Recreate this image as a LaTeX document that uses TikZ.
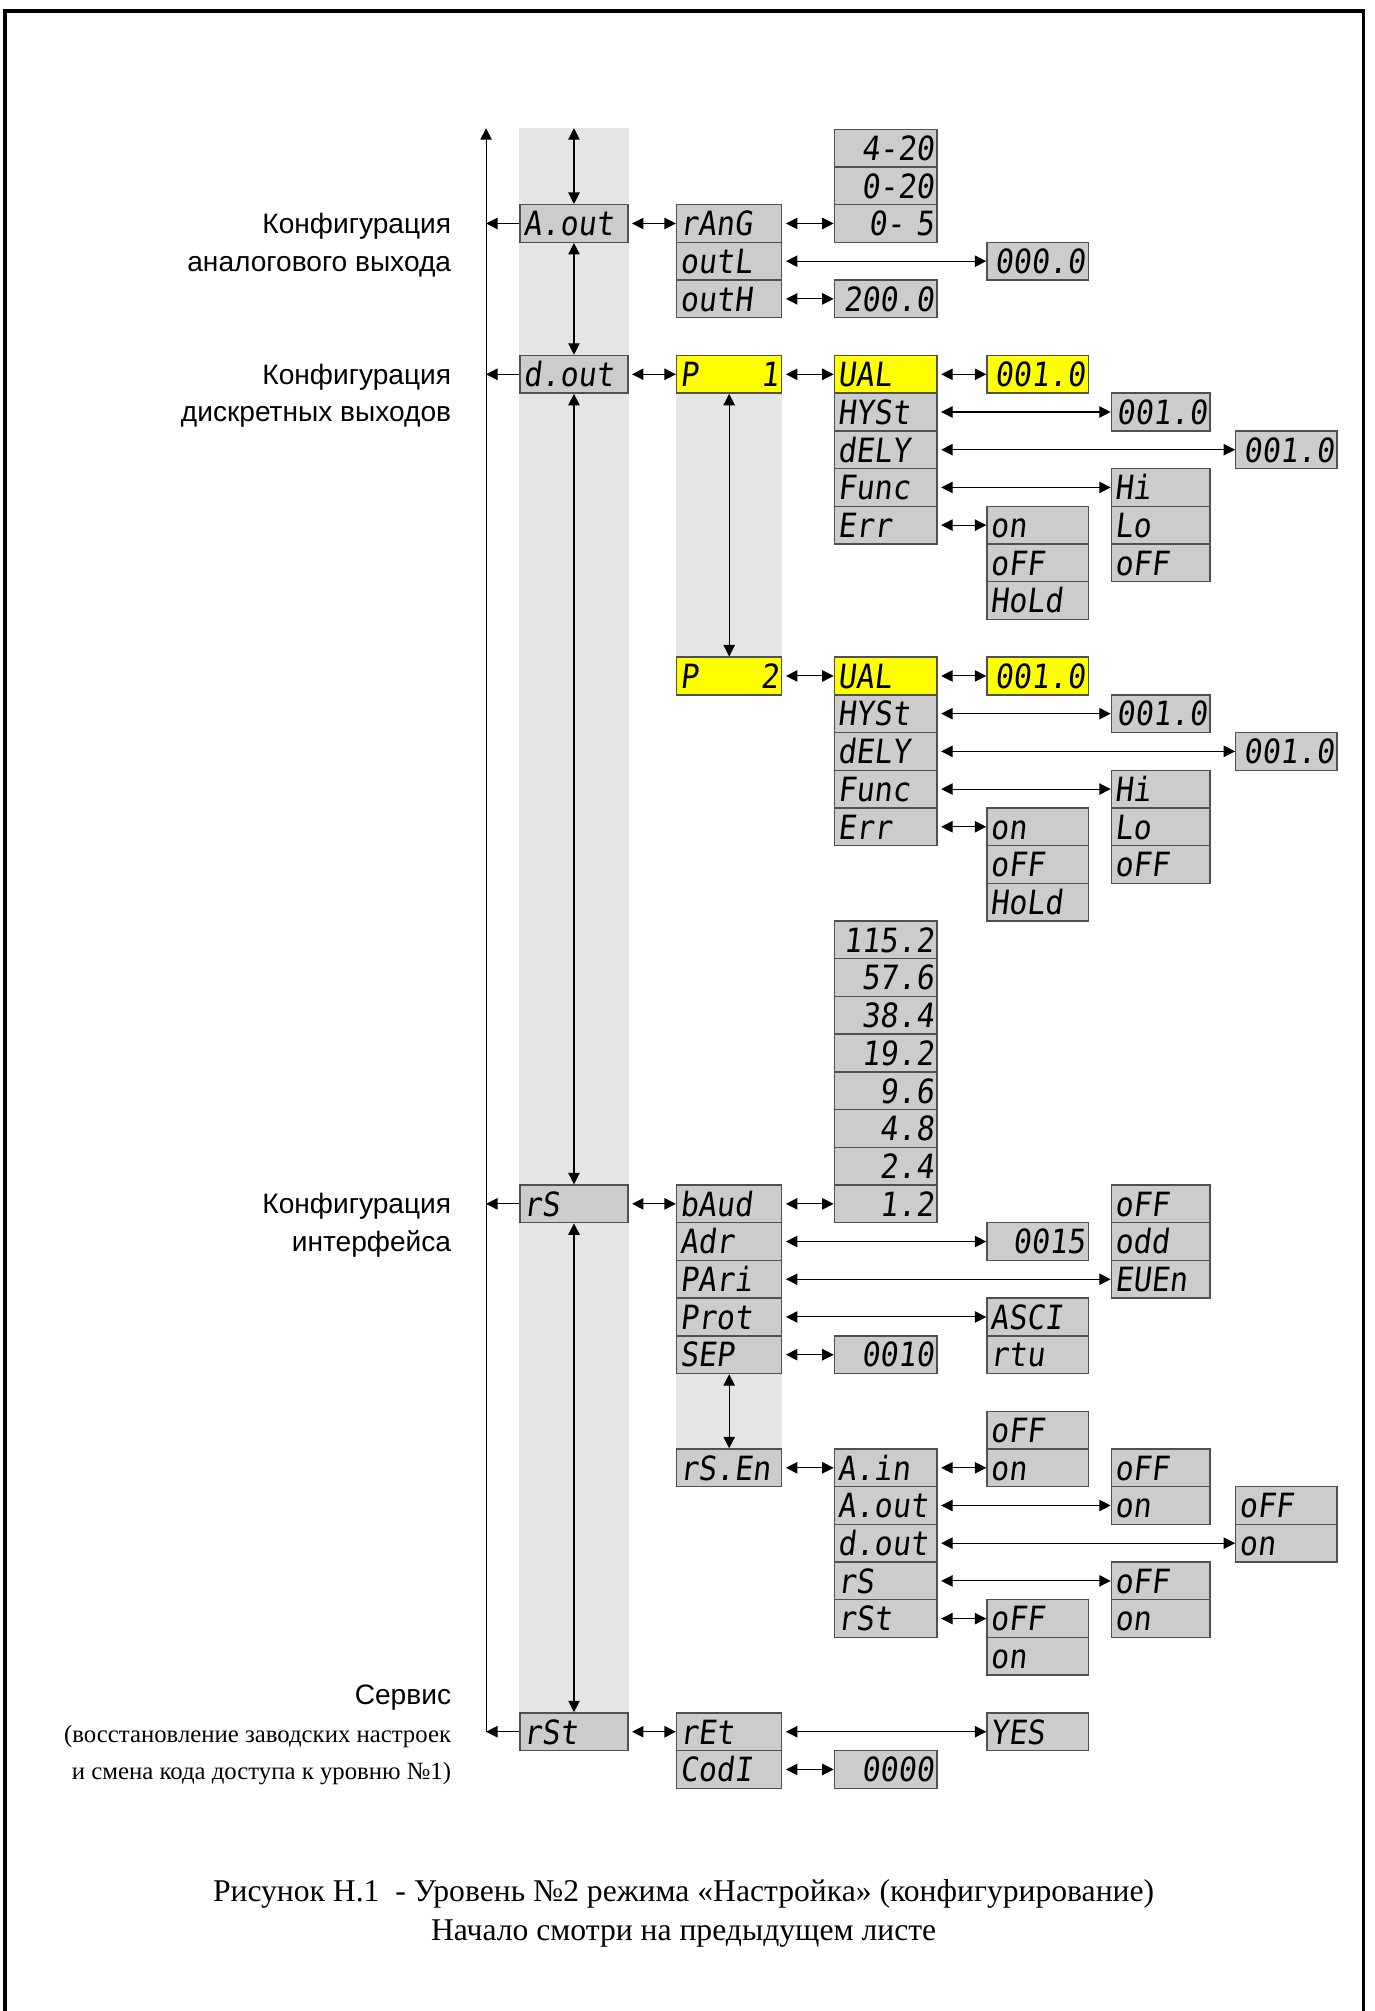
\documentclass[tikz,border=0pt]{standalone}
\usepackage{fontspec}
\setmainfont{Liberation Serif}
\setsansfont{Liberation Sans}
\newfontfamily\segfont{DejaVu Sans Mono}[FakeStretch=0.9,FakeSlant=0.12]
\usetikzlibrary{arrows.meta,positioning,backgrounds}
\definecolor{PanelGray}{HTML}{CCCCCC}
\definecolor{PanelEdge}{HTML}{505050}
\definecolor{BandGray}{HTML}{E5E5E5}
\definecolor{SetYellow}{HTML}{FFFF00}
\newcommand{\rowtop}[1]{159+29.4*(#1)}

\begin{document}
\begin{tikzpicture}[x=0.02565cm, y=-0.02565cm,
  seg/.style={rectangle, draw=PanelEdge, fill=PanelGray, line width=0.8pt,
    anchor=north west, minimum height=0.754cm, inner xsep=0.064cm, inner ysep=0pt,
    align=left, text height=14pt, text depth=0pt,
    font=\segfont\fontsize{19}{19}\selectfont},
  num/.style={align=right},
  hl/.style={fill=SetYellow},
  colA/.style={text width=2.026cm},
  colB/.style={text width=1.975cm},
  colC/.style={text width=1.924cm},
  colD/.style={text width=1.898cm},
  colE/.style={text width=1.847cm},
  colF/.style={text width=1.898cm},
  link/.style={{Triangle[length=6.5pt,width=6.5pt]}-{Triangle[length=6.5pt,width=6.5pt]}, line width=0.6pt},
  hlink/.style={link, shorten <=2pt},
  back/.style={-{Triangle[length=6.5pt,width=6.5pt]}, line width=0.6pt},
  lbl/.style={anchor=east, align=right, inner xsep=0pt,
    font=\sffamily\fontsize{16}{21.4}\selectfont}]
  \useasboundingbox (0,0) rectangle (1072,1568);
  \draw[line width=1.9pt] (3.9,1568) |- (1063.3,8.6) -- (1063.3,1568);

  % main menu column
  \foreach \nm/\txt/\r in {aout/A.out/0, dout/d.out/4, rs/rS/26, rst/rSt/40}
    \node[seg,colA] (\nm) at (405,{\rowtop{\r}}) {\txt};

  % parameter groups
  \foreach \nm/\txt/\r in {rang/rAnG/0, outl/outL/1, outh/outH/2,
      baud/bAud/26, adr/Adr/27, pari/PAri/28, prot/Prot/29, sep/SEP/30,
      rsen/rS.En/33, ret/rEt/40, codi/CodI/41}
    \node[seg,colB] (\nm) at (527,{\rowtop{\r}}) {\txt};
  \node[seg,colB,hl] (pone) at (527,{\rowtop{4}}) {P\hfill 1};
  \node[seg,colB,hl] (ptwo) at (527,{\rowtop{12}}) {P\hfill 2};

  % analog output values
  \foreach \nm/\txt/\r in {v420/4-20/-2, v020/0-20/-1, v05/0-~5/0, v200/200.0/2}
    \node[seg,colC,num] (\nm) at (650,{\rowtop{\r}}) {\txt};
  \node[seg,colD,num] (voutl) at (769,{\rowtop{1}}) {000.0};

  % setpoints P1 / P2
  \foreach \p/\r in {1/4, 2/12}{
    \node[seg,colC,hl] (ual\p) at (650,{\rowtop{\r}}) {UAL};
    \node[seg,colC] (hyst\p) at (650,{\rowtop{\r+1}}) {HYSt};
    \node[seg,colC] (dely\p) at (650,{\rowtop{\r+2}}) {dELY};
    \node[seg,colC] (func\p) at (650,{\rowtop{\r+3}}) {Func};
    \node[seg,colC] (err\p) at (650,{\rowtop{\r+4}}) {Err};
    \node[seg,colD,hl,num] (ualv\p) at (769,{\rowtop{\r}}) {001.0};
    \node[seg,colE,num] (hystv\p) at (866,{\rowtop{\r+1}}) {001.0};
    \node[seg,colF,num] (delyv\p) at (963,{\rowtop{\r+2}}) {001.0};
    \node[seg,colE] (hi\p) at (866,{\rowtop{\r+3}}) {Hi};
    \node[seg,colE] (lo\p) at (866,{\rowtop{\r+4}}) {Lo};
    \node[seg,colE] (foff\p) at (866,{\rowtop{\r+5}}) {oFF};
    \node[seg,colD] (eon\p) at (769,{\rowtop{\r+4}}) {on};
    \node[seg,colD] (eoff\p) at (769,{\rowtop{\r+5}}) {oFF};
    \node[seg,colD] (ehold\p) at (769,{\rowtop{\r+6}}) {HoLd};
    \draw[hlink] (ual\p.east) -- (ualv\p.west);
    \draw[hlink] (hyst\p.east) -- (hystv\p.west);
    \draw[hlink] (dely\p.east) -- (delyv\p.west);
    \draw[hlink] (func\p.east) -- (hi\p.west);
    \draw[hlink] (err\p.east) -- (eon\p.west);
  }

  % interface
  \foreach \v [count=\i from 0] in {115.2,57.6,38.4,19.2,9.6,4.8,2.4,1.2}
    \node[seg,colC,num] (bd\i) at (650,{\rowtop{19+\i}}) {\v};
  \node[seg,colC,num] (sepv) at (650,{\rowtop{30}}) {0010};
  \node[seg,colD,num] (adrv) at (769,{\rowtop{27}}) {0015};
  \node[seg,colD] (asci) at (769,{\rowtop{29}}) {ASCI};
  \node[seg,colD] (rtu) at (769,{\rowtop{30}}) {rtu};
  \foreach \nm/\txt/\r in {paoff/oFF/26, paodd/odd/27, paeven/EUEn/28}
    \node[seg,colE] (\nm) at (866,{\rowtop{\r}}) {\txt};

  % interface enable
  \foreach \nm/\txt/\r in {ain/A.in/33, eaout/A.out/34, edout/d.out/35, ers/rS/36, erst/rSt/37}
    \node[seg,colC] (\nm) at (650,{\rowtop{\r}}) {\txt};
  \foreach \nm/\txt/\r in {ainoff/oFF/32, ainon/on/33, rstoff/oFF/37, rston/on/38}
    \node[seg,colD] (\nm) at (769,{\rowtop{\r}}) {\txt};
  \foreach \nm/\txt/\r in {aooff/oFF/33, aoon/on/34, rsoff/oFF/36, rson/on/37}
    \node[seg,colE] (\nm) at (866,{\rowtop{\r}}) {\txt};
  \node[seg,colF] (dooff) at (963,{\rowtop{34}}) {oFF};
  \node[seg,colF] (doon) at (963,{\rowtop{35}}) {on};

  % service
  \node[seg,colD] (yes) at (769,{\rowtop{40}}) {YES};
  \node[seg,colC,num] (codv) at (650,{\rowtop{41}}) {0000};

  % left return line
  \coordinate (ltop) at (379,100);
  \draw[back] (ltop |- rst.west) -- (ltop);
  \foreach \nm in {aout,dout,rs,rst}
    \draw[back] (\nm.west) -- (\nm.west -| ltop);

  % menu bands
  \begin{scope}[on background layer]
    \fill[BandGray] (aout.north west |- ltop) rectangle (rst.north east);
    \fill[BandGray] (pone.south west) rectangle (ptwo.north east);
    \fill[BandGray] (sep.south west) rectangle (rsen.north east);
  \end{scope}

  \coordinate (ctop) at (aout.north |- ltop);
  \draw[link] (ctop) -- (aout.north);
  \draw[link] (aout.south) -- (dout.north);
  \draw[link] (dout.south) -- (rs.north);
  \draw[link] (rs.south) -- (rst.north);
  \draw[link] (pone.south) -- (ptwo.north);
  \draw[link] (sep.south) -- (rsen.north);

  \foreach \a/\b in {aout/rang, rang/v05, outl/voutl, outh/v200, dout/pone,
      pone/ual1, ptwo/ual2, rs/baud, baud/bd7, adr/adrv, pari/paeven,
      prot/asci, sep/sepv, rsen/ain, ain/ainon, eaout/aoon, edout/doon,
      ers/rsoff, erst/rstoff, rst/ret, ret/yes, codi/codv}
    \draw[hlink] (\a.east) -- (\b.west);

  % captions on the left
  \node[lbl] (labaout) at (352,{\rowtop{1}+2.5}) {Конфигурация\\аналогового выхода};
  \node[lbl] (labdout) at (352,{\rowtop{5}+2.5}) {Конфигурация\\дискретных выходов};
  \node[lbl] (labrs) at (352,{\rowtop{27}+2.5}) {Конфигурация\\интерфейса};
  \node[lbl] (labrst) at (352,{\rowtop{40.5}+3}) {Сервис\\
    {\rmfamily\fontsize{14.1}{21.4}\selectfont (восстановление заводских настроек}\\
    {\rmfamily\fontsize{14.1}{21.4}\selectfont и смена кода доступа к уровню №1)}};

  \node[align=center, font=\rmfamily\fontsize{18}{21.9}\selectfont] (title) at (533,1492)
    {Рисунок Н.1 \ - Уровень №2 режима «Настройка» (конфигурирование)\\Начало смотри на предыдущем листе};
\end{tikzpicture}
\end{document}
